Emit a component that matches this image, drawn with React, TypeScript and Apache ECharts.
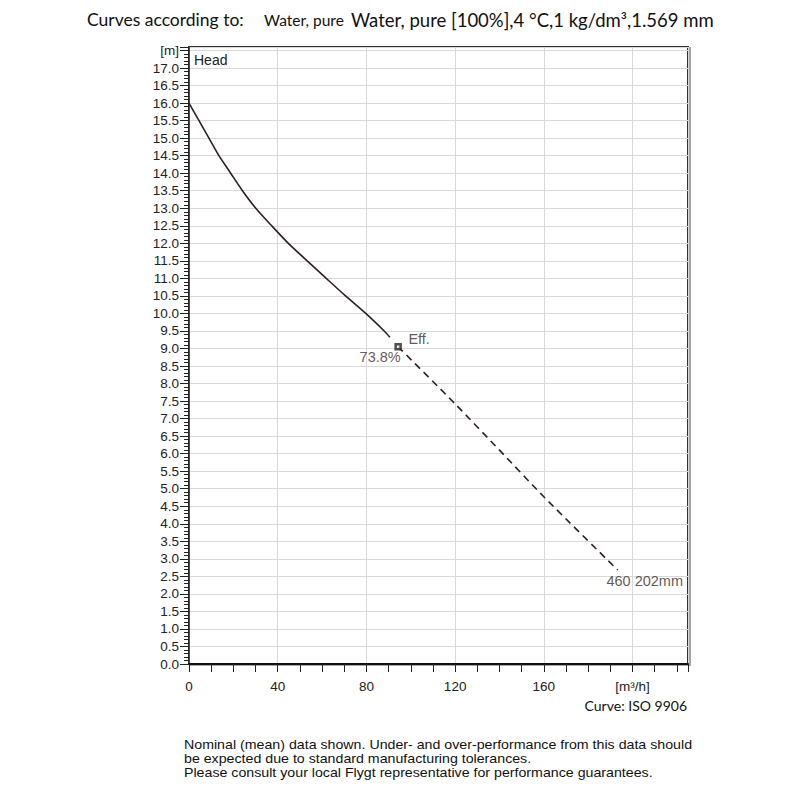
import React, { useEffect, useRef } from "react";
import * as echarts from "echarts";

// Head curve (solid part), flow in m³/h, head in m
const headFlow = [0, 4.5, 9.0, 13.5, 18.8, 24.1, 30.1, 37.3, 44.8, 53.3, 61.9, 70.6, 79.7, 88.0, 90.6];
const headValues = [16.0, 15.5, 15.0, 14.5, 14.0, 13.5, 13.0, 12.5, 12.0, 11.5, 11.0, 10.5, 10.0, 9.5, 9.32];

// Head curve (dashed part, beyond the duty point)
const dashFlow = [94.3, 120, 140, 160, 193.3];
const dashValues = [9.05, 7.42, 6.1, 4.77, 2.68];

// Efficiency point
const effFlow = 94.3;
const effHead = 9.05;
const effText = "73.8%";
const curveName = "460 202mm";

// Axes
const xMin = 0;
const xMax = 225;
const xLabelStep = 40;
const xTickStep = 10;
const yMin = 0;
const yMax = 17.6;
const yLabelStep = 0.5;
const yTickStep = 0.1;
const xUnit = "[m³/h]";
const yUnit = "[m]";
const xUnitAt = 200;
const yUnitAt = 17.5;

// Footnote lines
const footLines = [
  "Nominal (mean) data shown. Under- and over-performance from this data should",
  "be expected due to standard manufacturing tolerances.",
  "Please consult your local Flygt representative for performance guarantees.",
];

const LINE = "#2d1f22";
const TEXT = "#222";
const ARIAL = "'Liberation Sans', Arial, sans-serif";
const CALIBRI = "Lato, 'Open Sans', sans-serif";

export default function App() {
  const ref = useRef<HTMLDivElement>(null);

  useEffect(() => {
    if (!ref.current) return;
    const chart = echarts.init(ref.current, null, { renderer: "svg" });

    const solid = headFlow.map((x, i) => [x, headValues[i]]);
    const dashed = dashFlow.map((x, i) => [x, dashValues[i]]);
    const endPt = dashed[dashed.length - 1];

    const isMul = (v: number, s: number) => Math.abs(v / s - Math.round(v / s)) < 1e-6;

    const footGraphics = footLines.map((t, i) => ({
      type: "text",
      x: 184,
      y: 745 + i * 14,
      scaleX: 1.06,
      style: {
        text: t,
        fill: "#111",
        font: `13.4px ${ARIAL}`,
        textVerticalAlign: "middle",
        verticalAlign: "middle",
      },
    }));

    chart.setOption({
      animation: false,
      backgroundColor: "#fff",
      grid: {
        left: 189,
        top: 47,
        right: 112,
        bottom: 136,
        show: true,
        backgroundColor: "#fff",
        borderColor: "#333",
        borderWidth: 2,
        shadowColor: "rgba(0,0,0,0.35)",
        shadowOffsetX: 2,
        shadowOffsetY: 1,
        shadowBlur: 0,
      },
      xAxis: [
        {
          type: "value",
          min: xMin,
          max: xMax,
          interval: xLabelStep,
          axisLine: { show: true, onZero: false, lineStyle: { color: "#111", width: 2 } },
          axisTick: { show: false },
          splitLine: { show: true, lineStyle: { color: "#d9d9d9", width: 1 } },
          axisLabel: {
            color: TEXT,
            fontFamily: ARIAL,
            fontSize: 13.5,
            margin: 15,
            formatter: (v: number) => {
              if (Math.abs(v - xUnitAt) < 1e-6) return xUnit;
              if (!isMul(v, xLabelStep) || v > xUnitAt) return "";
              return String(v);
            },
          },
        },
        {
          type: "value",
          position: "bottom",
          min: xMin,
          max: xMax,
          interval: xTickStep,
          axisLine: { show: false },
          axisTick: { show: true, length: 8, lineStyle: { color: "#222", width: 1 } },
          splitLine: { show: false },
          axisLabel: { show: false },
        },
      ],
      yAxis: [
        {
          type: "value",
          min: yMin,
          max: yMax,
          interval: yLabelStep,
          axisLine: { show: true, onZero: false, lineStyle: { color: "#222", width: 1.5 } },
          axisTick: { show: true, length: 9, lineStyle: { color: "#222", width: 1 } },
          splitLine: { show: true, lineStyle: { color: "#d9d9d9", width: 1 } },
          axisLabel: {
            color: TEXT,
            fontFamily: ARIAL,
            fontSize: 13.5,
            margin: 10,
            formatter: (v: number) => {
              if (Math.abs(v - yUnitAt) < 1e-6) return yUnit;
              if (!isMul(v, yLabelStep) || v > yUnitAt) return "";
              return v.toFixed(1);
            },
          },
        },
        {
          type: "value",
          position: "left",
          min: yMin,
          max: yMax,
          interval: yTickStep,
          axisLine: { show: false },
          axisTick: { show: true, length: 5, lineStyle: { color: "#222", width: 1 } },
          splitLine: { show: false },
          axisLabel: { show: false },
        },
      ],
      series: [
        {
          type: "line",
          name: "Head",
          data: solid,
          smooth: 0.25,
          symbol: "none",
          lineStyle: { color: LINE, width: 1.6 },
          z: 3,
        },
        {
          type: "line",
          name: "Head extended",
          data: dashed,
          smooth: 0.25,
          symbol: "none",
          lineStyle: { color: LINE, width: 1.6, type: [7, 5] },
          z: 3,
        },
        {
          type: "scatter",
          name: "Eff",
          data: [[effFlow, effHead]],
          symbol: "rect",
          symbolSize: 5,
          itemStyle: { color: "#fff", borderColor: LINE, borderWidth: 2.5 },
          label: {
            show: true,
            position: "inside",
            offset: [21, -8],
            formatter: "Eff.",
            color: "#3a2d2f",
            fontFamily: ARIAL,
            fontSize: 14.5,
          },
          z: 5,
        },
        {
          type: "scatter",
          name: "labels",
          symbolSize: 0,
          silent: true,
          data: [
            {
              value: [effFlow, effHead],
              label: { offset: [-18, 10], formatter: effText },
            },
            {
              value: endPt,
              label: { offset: [27, 11], formatter: curveName },
            },
          ],
          label: {
            show: true,
            position: "inside",
            color: "#3a2d2f",
            fontFamily: ARIAL,
            fontSize: 14.5,
          },
          z: 6,
        },
      ],
      graphic: [
        {
          type: "text",
          left: 194,
          top: 53,
          style: { text: "Head", fill: "#222", font: `14px ${ARIAL}` },
        },
        {
          type: "text",
          left: 87,
          top: 10,
          style: { text: "Curves according to:", fill: "#111", font: `17.5px ${CALIBRI}` },
        },
        {
          type: "text",
          left: 264,
          top: 12,
          style: { text: "Water, pure", fill: "#111", font: `15.5px ${CALIBRI}` },
        },
        {
          type: "text",
          left: 351,
          top: 10,
          style: {
            text: "Water, pure [100%],4 °C,1 kg/dm³,1.569 mm",
            fill: "#111",
            font: `18.5px ${CALIBRI}`,
          },
        },
        {
          type: "text",
          right: 113,
          top: 698,
          style: { text: "Curve: ISO 9906", fill: "#111", font: `14px ${CALIBRI}` },
        },
        ...footGraphics,
      ],
    });

    return () => chart.dispose();
  }, []);

  return (
    <div
      ref={ref}
      style={{ position: "fixed", left: 0, top: 0, width: 800, height: 800, background: "#fff" }}
    />
  );
}
